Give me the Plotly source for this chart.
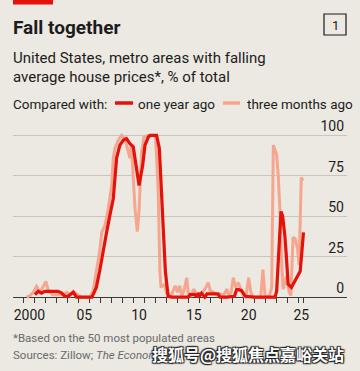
import plotly.graph_objects as go

# ---- data (decimal years, % of metro areas with falling prices) ----
year_1y = [2001.0, 2001.3, 2001.6, 2001.9, 2002.3, 2002.7, 2003.1, 2003.45, 2003.74, 2004.0,
           2004.2, 2004.5, 2004.8, 2005.3, 2005.8, 2006.2, 2006.4, 2006.6, 2006.9, 2007.2,
           2007.55, 2007.85, 2008.15, 2008.3, 2008.45, 2008.75, 2009.05, 2009.35, 2009.5,
           2009.65, 2009.97, 2010.2, 2010.5, 2010.83, 2011.04, 2011.35, 2011.5, 2011.8, 2012.1,
           2012.35, 2012.56, 2012.7, 2012.9, 2013.15, 2013.5, 2014.0, 2014.5, 2015.0, 2015.15,
           2015.6, 2015.75, 2015.9, 2016.05, 2016.2, 2016.5, 2016.7, 2017.0, 2017.3, 2017.7,
           2017.9, 2018.5, 2019.2, 2019.4, 2019.6, 2019.85, 2020.2, 2021.0, 2022.0, 2022.9,
           2023.05, 2023.2, 2023.3, 2023.45, 2023.6, 2023.8, 2023.95, 2024.1, 2024.4, 2024.7,
           2025.0, 2025.2, 2025.35, 2025.5]
one_year_ago = [1.5, 3.6, 2.5, 3.6, 3.6, 3.6, 3.6, 2.5, 0.5, 0.5,
                1.5, 3.0, 0.0, 0.0, 0.0, 0.0, 3.0, 6.0, 16.0, 28.0,
                40.5, 51.0, 61.0, 73.5, 86.0, 94.0, 97.0, 98.0, 96.0,
                95.0, 93.0, 83.5, 69.0, 81.5, 94.0, 99.0, 100.0, 100.0, 100.0,
                92.0, 65.0, 38.0, 16.0, 0.5, 0.0, 0.0, 0.0, 0.0, 1.5,
                1.5, 0.0, 2.5, 1.0, 2.5, 0.0, 2.0, 2.0, 2.0, 2.0,
                0.0, 0.0, 0.5, 4.6, 4.6, 4.0, 0.5, 0.0, 0.0, 0.0,
                3.6, 20.0, 34.0, 53.0, 50.0, 38.0, 24.0, 8.0, 6.0, 10.0,
                14.0, 16.0, 28.0, 40.0]

year_3m = [2000.25, 2000.55, 2000.85, 2001.15, 2001.3, 2001.46, 2001.76, 2002.0, 2002.2, 2002.6,
           2003.0, 2003.6, 2003.9, 2004.2, 2004.5, 2004.9, 2005.3, 2006.0, 2006.3, 2006.6,
           2006.9, 2007.1, 2007.4, 2007.7, 2008.0, 2008.15, 2008.3, 2008.6, 2008.9, 2009.2,
           2009.46, 2009.67, 2009.8, 2010.0, 2010.13, 2010.34, 2010.5, 2010.73, 2010.95, 2011.3,
           2011.7, 2012.0, 2012.25, 2012.4, 2012.5, 2012.65, 2012.85, 2013.0, 2013.1, 2013.3,
           2013.5, 2013.8, 2014.0, 2014.2, 2014.4, 2014.6, 2014.85, 2015.0, 2015.2, 2015.5,
           2015.7, 2016.0, 2016.3, 2016.6, 2016.8, 2017.0, 2017.3, 2017.6, 2017.9, 2018.2,
           2018.5, 2018.7, 2018.9, 2019.1, 2019.3, 2019.55, 2019.8, 2020.0, 2020.25, 2020.5,
           2020.7, 2020.9, 2021.3, 2021.6, 2021.8, 2022.0, 2022.4, 2022.6, 2022.75, 2023.05,
           2023.2, 2023.35, 2023.5, 2023.65, 2023.95, 2024.2, 2024.35, 2024.55, 2024.75, 2024.95,
           2025.1, 2025.3, 2025.45]
three_months_ago = [0.0, 1.0, 3.0, 6.6, 5.0, 3.0, 6.6, 9.7, 4.6, 1.5,
                    1.5, 1.5, 3.0, 1.0, 3.6, 1.5, 0.0, 0.0, 3.6, 16.0,
                    28.0, 40.0, 44.6, 55.0, 69.0, 86.0, 92.0, 97.0, 100.0, 98.0,
                    92.0, 86.0, 94.0, 69.0, 55.0, 40.5, 53.0, 90.0, 99.0, 100.0,
                    100.0, 100.0, 65.0, 16.0, 6.0, 7.0, 8.0, 2.0, 3.0, 0.0,
                    2.0, 7.0, 3.0, 7.0, 1.0, 4.0, 12.0, 2.0, 1.0, 5.0,
                    2.0, 1.0, 3.0, 6.0, 9.0, 4.0, 3.0, 1.0, 2.0, 1.0,
                    5.0, 1.0, 3.0, 12.0, 6.0, 9.0, 4.0, 1.0, 0.0, 12.0,
                    3.0, 0.0, 0.0, 0.0, 17.0, 0.0, 1.0, 6.0, 94.0, 88.0,
                    75.0, 54.0, 23.0, 5.0, 13.0, 3.0, 1.0, 37.0, 36.0, 30.0,
                    20.0, 74.0, 72.0]

y_ticks = [0, 25, 50, 75, 100]
x_tick_labels = ["2000", "05", "10", "15", "20", "25"]
x_tick_pos = [2000.5, 2005.5, 2010.5, 2015.5, 2020.5, 2025.3]
year_ticks = list(range(2000, 2026)) + [2025.5]

# ---- styling ----
W, H = 360, 371
ML, MR, MT, MB = 13, 13, 116, 69
BG = "#EBE9E1"
RED = "#E3120B"
LIGHT = "#F6A68E"
TXT = "#1C1C1C"
FONT = "Roboto"
YR = [-3, 112]


def px(xp):
    return (xp - ML) / (W - ML - MR)


def py(yp):
    return (H - MB - yp) / (H - MT - MB)


fig = go.Figure()
fig.add_trace(go.Scatter(x=year_3m, y=three_months_ago, mode="lines",
                         line=dict(color=LIGHT, width=3), showlegend=False,
                         hoverinfo="skip"))
fig.add_trace(go.Scatter(x=year_1y, y=one_year_ago, mode="lines",
                         line=dict(color=RED, width=3.2), showlegend=False,
                         hoverinfo="skip"))

zero_pos = (0 - YR[0]) / (YR[1] - YR[0])

fig.update_layout(
    width=W, height=H,
    margin=dict(l=ML, r=MR, t=MT, b=MB),
    paper_bgcolor=BG, plot_bgcolor=BG,
    font=dict(family=FONT, color=TXT),
    xaxis=dict(range=[1999.0, 2029.47], anchor="free", position=zero_pos,
               showline=True, linecolor="#3a3a3a", linewidth=1.3,
               showgrid=False, zeroline=False, layer="below traces",
               tickmode="array", tickvals=x_tick_pos, ticktext=x_tick_labels,
               ticks="outside", ticklen=5, tickcolor="rgba(0,0,0,0)",
               tickfont=dict(size=14, color=TXT, family=FONT),
               minor=dict(tickmode="array", tickvals=year_ticks, ticks="outside",
                          ticklen=5, tickwidth=1, tickcolor="#3a3a3a", showgrid=False)),
    yaxis=dict(range=YR, side="right", ticklabelposition="inside",
               tickmode="array", tickvals=y_ticks, ticks="",
               showgrid=True, gridcolor="#C8C5BC", gridwidth=1, zeroline=False,
               showline=False, ticklabelshift=-9,
               tickfont=dict(size=14, color=TXT, family=FONT)),
)

shapes = [
    dict(type="rect", xref="paper", yref="paper", x0=px(13), x1=px(53), y0=py(0), y1=py(4.5),
         fillcolor=RED, line=dict(width=0)),
    dict(type="rect", xref="paper", yref="paper", x0=px(324), x1=px(346), y0=py(14), y1=py(35),
         fillcolor="rgba(0,0,0,0)", line=dict(color=TXT, width=1.2)),
    dict(type="line", xref="paper", yref="paper", x0=px(115), x1=px(133), y0=py(103), y1=py(103),
         line=dict(color=RED, width=3.5)),
    dict(type="line", xref="paper", yref="paper", x0=px(223), x1=px(240), y0=py(103), y1=py(103),
         line=dict(color=LIGHT, width=3.5)),
]
fig.update_layout(shapes=shapes)


def ann(text, x, y, size, color=TXT, xanchor="left", family=FONT, **kw):
    fig.add_annotation(text=text, xref="paper", yref="paper", x=px(x), y=py(y),
                       xanchor=xanchor, yanchor="middle", showarrow=False,
                       font=dict(size=size, color=color, family=family), **kw)


ann("<b>Fall together</b>", 11, 27, 19)
ann("1", 335, 25, 13, xanchor="center")
ann("United States, metro areas with falling", 11, 58, 15)
ann("average house prices*, % of total", 11, 77, 15)
ann("Compared with:", 11, 104, 13.5)
ann("one year ago", 136, 104, 13.5)
ann("three months ago", 245, 104, 13.5)
ann("*Based on the 50 most populated areas", 11, 338, 11.5, color="#6A6A6A")
ann("Sources: Zillow; <i>The Economist</i>", 11, 355, 11.5, color="#6A6A6A")
fig.add_annotation(text="<b>搜狐号@搜狐焦点嘉峪关站</b>", xref="paper", yref="paper",
                   x=px(346), y=py(354), xanchor="right", yanchor="middle", showarrow=False,
                   font=dict(size=16, color="white", family="Noto Sans CJK SC",
                             shadow="1px 1px 1px #222, -1px -1px 1px #222, 1px -1px 1px #222, -1px 1px 1px #222"))

fig.write_html("out.html", config={"displayModeBar": False, "staticPlot": True},
               post_script="document.body.style.margin='0';document.body.style.overflow='hidden';")
